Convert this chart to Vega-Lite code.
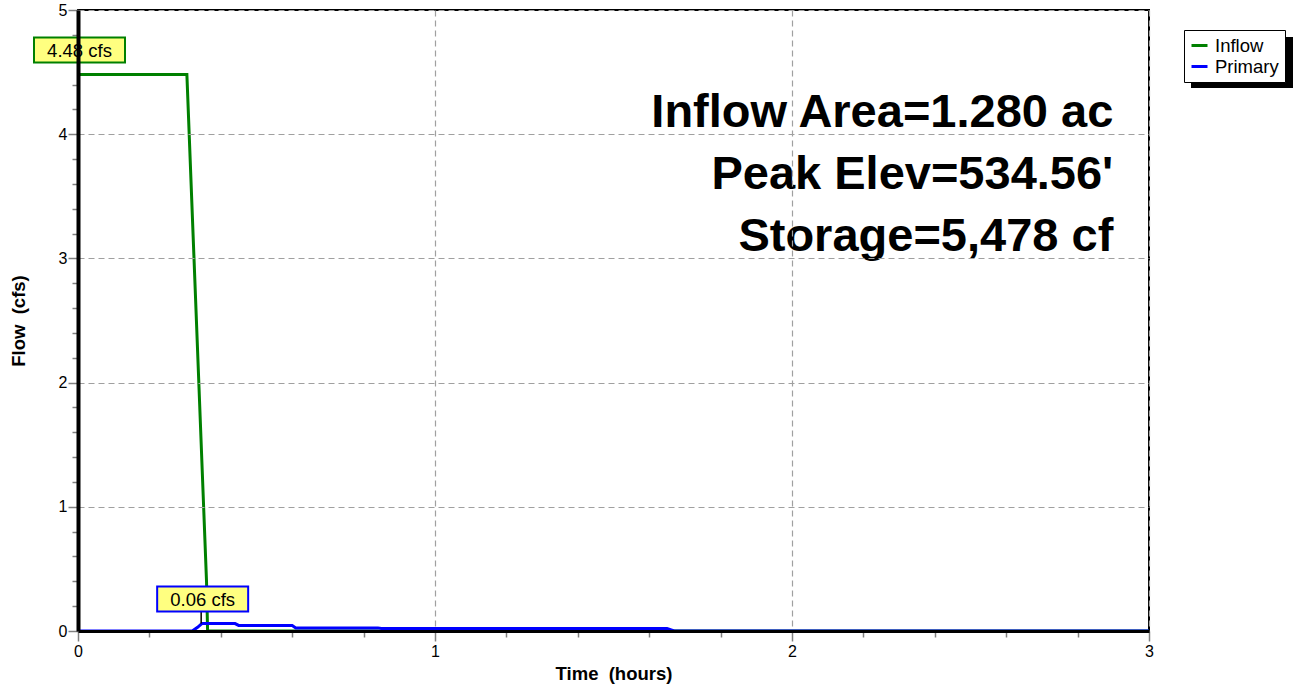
{
  "$schema": "https://vega.github.io/schema/vega-lite/v6.json",
  "width": 1071,
  "height": 621,
  "autosize": {"type": "none"},
  "padding": {"left": 78, "top": 10, "right": 145, "bottom": 57},
  "config": {
    "font": "Liberation Sans",
    "view": {"stroke": "black", "strokeWidth": 2}
  },
  "datasets": {
    "flow": [
      {"series": "Inflow", "time": 0, "flow": 4.48},
      {"series": "Inflow", "time": 0.305, "flow": 4.48},
      {"series": "Inflow", "time": 0.36, "flow": 0.4},
      {"series": "Inflow", "time": 0.363, "flow": 0},
      {"series": "Inflow", "time": 3, "flow": 0},
      {"series": "Primary", "time": 0, "flow": 0},
      {"series": "Primary", "time": 0.32, "flow": 0},
      {"series": "Primary", "time": 0.335, "flow": 0.03},
      {"series": "Primary", "time": 0.347, "flow": 0.06},
      {"series": "Primary", "time": 0.44, "flow": 0.06},
      {"series": "Primary", "time": 0.45, "flow": 0.045},
      {"series": "Primary", "time": 0.6, "flow": 0.045},
      {"series": "Primary", "time": 0.61, "flow": 0.025},
      {"series": "Primary", "time": 0.84, "flow": 0.025},
      {"series": "Primary", "time": 0.85, "flow": 0.02},
      {"series": "Primary", "time": 1.65, "flow": 0.02},
      {"series": "Primary", "time": 1.67, "flow": 0},
      {"series": "Primary", "time": 3, "flow": 0}
    ],
    "peaks": [
      {"series": "Inflow", "time": 0, "flow": 4.48, "label": "4.48 cfs"},
      {"series": "Primary", "time": 0.345, "flow": 0.06, "label": "0.06 cfs"}
    ],
    "notes": [
      {"text": "Inflow Area=1.280 ac", "time": 2.9, "flow": 4.056},
      {"text": "Peak Elev=534.56'", "time": 2.9, "flow": 3.556},
      {"text": "Storage=5,478 cf", "time": 2.9, "flow": 3.056}
    ]
  },
  "layer": [
    {
      "data": {"name": "flow"},
      "mark": {"type": "line", "strokeWidth": 3, "interpolate": "linear"},
      "encoding": {
        "x": {
          "field": "time", "type": "quantitative",
          "scale": {"domain": [0, 3], "nice": false, "zero": false},
          "axis": {
            "orient": "bottom", "values": [0, 1, 2, 3], "format": "d", "zindex": 1,
            "title": "Time\u00a0 (hours)", "titleFontSize": 18.5, "titleFontWeight": "bold", "titleColor": "black", "titlePadding": 5,
            "labelFontSize": 16, "labelColor": "black", "labelPadding": 2, "labelFlush": false,
            "tickSize": 10, "tickColor": "#808080", "tickWidth": 1.5,
            "domainColor": "black", "domainWidth": 3,
            "grid": true, "gridColor": "#a0a0a0", "gridDash": [6, 4], "gridWidth": 1.2
          }
        },
        "y": {
          "field": "flow", "type": "quantitative",
          "scale": {"domain": [0, 5], "nice": false},
          "axis": {
            "orient": "left", "values": [0, 1, 2, 3, 4, 5], "format": "d", "zindex": 1,
            "title": "Flow\u00a0 (cfs)", "titleFontSize": 18.5, "titleFontWeight": "bold", "titleColor": "black", "titlePadding": 30,
            "labelFontSize": 16, "labelColor": "black", "labelPadding": 1, "labelFlush": false,
            "tickSize": 10, "tickColor": "#808080", "tickWidth": 1.5,
            "domainColor": "black", "domainWidth": 4,
            "grid": true, "gridColor": "#a0a0a0", "gridDash": [6, 4], "gridWidth": 1.2
          }
        },
        "color": {
          "field": "series", "type": "nominal",
          "scale": {"domain": ["Inflow", "Primary"], "range": ["#008000", "#0000FF"]},
          "legend": {
            "orient": "none", "legendX": 1106, "legendY": 20, "title": null,
            "symbolType": "stroke", "symbolStrokeWidth": 3, "symbolSize": 256,
            "labelFontSize": 18.5, "labelColor": "black", "labelOffset": 6,
            "fillColor": "white", "strokeColor": "black", "padding": 6, "rowPadding": 2,
            "zindex": 2
          }
        }
      }
    },
    {
      "data": {"name": "flow"},
      "mark": {"type": "point", "opacity": 0},
      "encoding": {
        "x": {
          "field": "time", "type": "quantitative",
          "axis": {
            "orient": "bottom",
            "values": [0.2, 0.4, 0.6, 0.8, 1.2, 1.4, 1.6, 1.8, 2.2, 2.4, 2.6, 2.8],
            "labels": false, "grid": false, "domain": false, "title": null,
            "tickSize": 6, "tickColor": "#808080", "tickWidth": 1.5
          }
        },
        "y": {
          "field": "flow", "type": "quantitative",
          "axis": {
            "orient": "left",
            "values": [0.2, 0.4, 0.6, 0.8, 1.2, 1.4, 1.6, 1.8, 2.2, 2.4, 2.6, 2.8, 3.2, 3.4, 3.6, 3.8, 4.2, 4.4, 4.6, 4.8],
            "labels": false, "grid": false, "domain": false, "title": null,
            "tickSize": 6, "tickColor": "#808080", "tickWidth": 1.5
          }
        },
        "fill": {
          "field": "flow", "type": "quantitative",
          "scale": {"range": ["black", "black"]},
          "legend": {
            "orient": "none", "legendX": 1113, "legendY": 27, "title": null,
            "direction": "horizontal", "gradientLength": 102, "gradientThickness": 51,
            "gradientStrokeColor": "black", "gradientStrokeWidth": 0,
            "labelExpr": "''", "labelFontSize": 1, "labelOpacity": 0, "padding": 0, "zindex": 1
          }
        }
      }
    },
    {
      "data": {"name": "notes"},
      "mark": {"type": "text", "align": "right", "baseline": "alphabetic", "fontSize": 47, "fontWeight": "bold", "color": "black"},
      "encoding": {
        "x": {"field": "time", "type": "quantitative", "axis": null},
        "y": {"field": "flow", "type": "quantitative", "axis": null},
        "text": {"field": "text"}
      }
    },
    {
      "data": {"name": "peaks"},
      "mark": {"type": "rule", "color": "black", "strokeWidth": 1.5, "y2Offset": -12},
      "encoding": {
        "x": {"field": "time", "type": "quantitative", "axis": null},
        "y": {"field": "flow", "type": "quantitative", "axis": null},
        "y2": {"field": "flow"}
      }
    },
    {
      "data": {"name": "peaks"},
      "mark": {"type": "rect", "fill": "#FFFF80", "strokeWidth": 2, "xOffset": -44, "x2Offset": 47, "yOffset": -37, "y2Offset": -12},
      "encoding": {
        "x": {"field": "time", "type": "quantitative", "axis": null},
        "x2": {"field": "time"},
        "y": {"field": "flow", "type": "quantitative", "axis": null},
        "y2": {"field": "flow"},
        "stroke": {
          "field": "series", "type": "nominal",
          "scale": {"domain": ["Inflow", "Primary"], "range": ["#008000", "#0000FF"]},
          "legend": null
        }
      }
    },
    {
      "data": {"name": "peaks"},
      "mark": {"type": "text", "align": "center", "baseline": "middle", "fontSize": 18.5, "color": "black", "xOffset": 1.5, "yOffset": -24},
      "encoding": {
        "x": {"field": "time", "type": "quantitative", "axis": null},
        "y": {"field": "flow", "type": "quantitative", "axis": null},
        "text": {"field": "label"}
      }
    }
  ],
  "resolve": {"axis": {"x": "independent", "y": "independent"}}
}
